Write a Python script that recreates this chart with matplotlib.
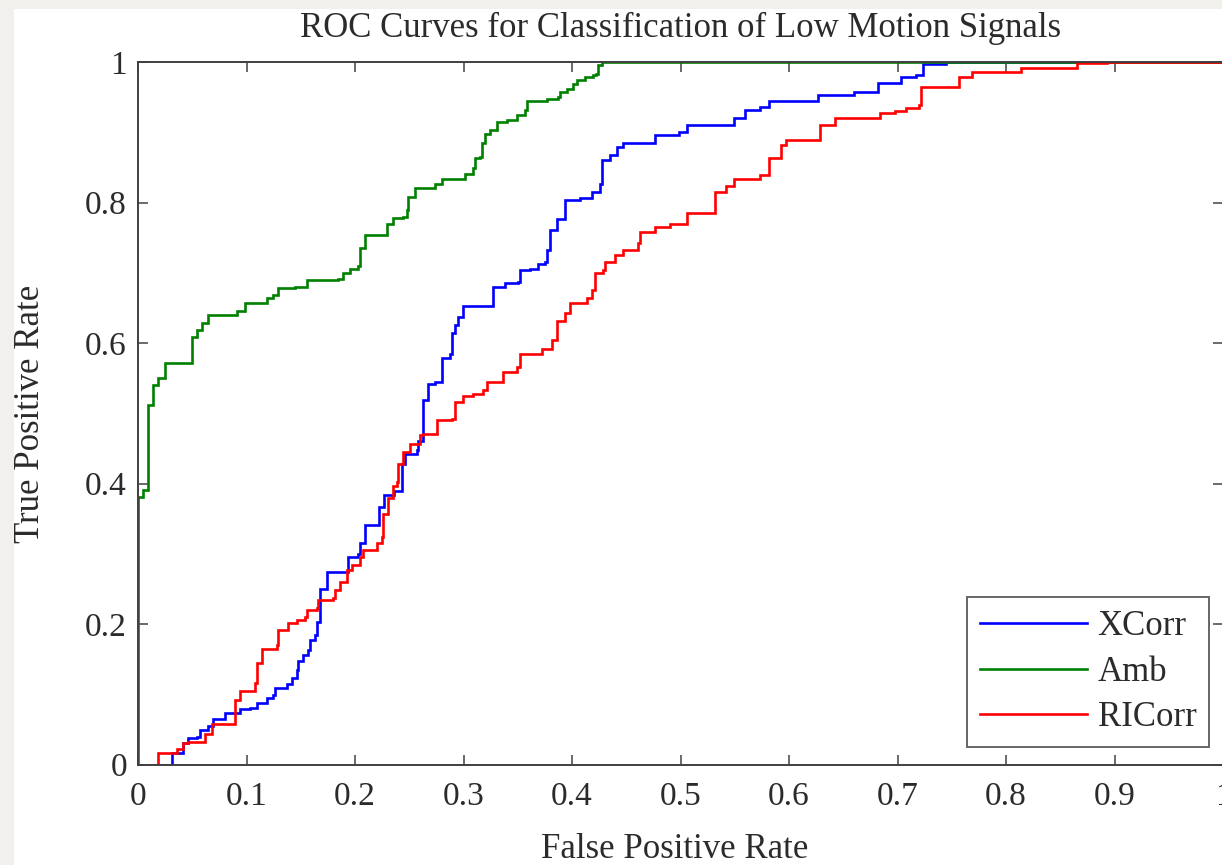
import matplotlib
matplotlib.use("Agg")
import matplotlib.pyplot as plt
from matplotlib.patches import Rectangle

title = "ROC Curves for Classification of Low Motion Signals"
xlabel = "False Positive Rate"
ylabel = "True Positive Rate"
series_names = ["XCorr", "Amb", "RICorr"]

xticks = [0, 0.1, 0.2, 0.3, 0.4, 0.5, 0.6, 0.7, 0.8, 0.9, 1]
xtick_labels = ["0", "0.1", "0.2", "0.3", "0.4", "0.5", "0.6", "0.7", "0.8", "0.9", "1"]
yticks = [0, 0.2, 0.4, 0.6, 0.8, 1]
ytick_labels = ["0", "0.2", "0.4", "0.6", "0.8", "1"]

# XCorr (blue)
xcorr_fpr = [0, 0.0234, 0.031, 0.0418, 0.0464, 0.054, 0.057, 0.0648, 0.0694, 0.0802, 0.094,
             0.1032, 0.1094, 0.1186, 0.1247, 0.1263, 0.137, 0.1416, 0.1462, 0.1478, 0.1524,
             0.157, 0.1585, 0.1631, 0.1647, 0.1677, 0.1677, 0.174, 0.1893, 0.194, 0.2032,
             0.2048, 0.2094, 0.22, 0.2217, 0.2263, 0.2355, 0.2432, 0.2432, 0.2462, 0.2569,
             0.2585, 0.263, 0.263, 0.2676, 0.2737, 0.2799, 0.2875, 0.289, 0.292, 0.295,
             0.2998, 0.326, 0.3275, 0.338, 0.3502, 0.352, 0.3613, 0.369, 0.3751, 0.3766,
             0.3797, 0.386, 0.3935, 0.4074, 0.418, 0.4258, 0.4273, 0.435, 0.4411, 0.4473,
             0.4745, 0.4765, 0.4943, 0.4982, 0.5061, 0.5417, 0.5496, 0.5595, 0.5733, 0.5812,
             0.6167, 0.6266, 0.6582, 0.6602, 0.68, 0.682, 0.7017, 0.7036, 0.7174, 0.7234,
             0.7432, 0.745, 1.0]
xcorr_tpr = [0, 0, 0.016, 0.030, 0.0375, 0.0395, 0.049, 0.0555, 0.065, 0.074, 0.0785,
             0.081, 0.088, 0.095, 0.0995, 0.109, 0.114, 0.123, 0.135, 0.147, 0.156,
             0.163, 0.177, 0.184, 0.203, 0.213, 0.25, 0.2745, 0.2745, 0.296, 0.300,
             0.315, 0.341, 0.341, 0.366, 0.383, 0.390, 0.393, 0.428, 0.442, 0.447,
             0.461, 0.466, 0.519, 0.542, 0.545, 0.578, 0.585, 0.614, 0.625, 0.637,
             0.652, 0.652, 0.680, 0.685, 0.687, 0.704, 0.706, 0.713, 0.716, 0.7325,
             0.761, 0.777, 0.803, 0.806, 0.815, 0.827, 0.860, 0.867, 0.879, 0.884,
             0.884, 0.896, 0.896, 0.901, 0.910, 0.910, 0.920, 0.932, 0.936, 0.944,
             0.944, 0.953, 0.953, 0.958, 0.958, 0.970, 0.970, 0.979, 0.981, 0.997,
             0.997, 1.0, 1.0]

# Amb (green)
amb_fpr = [0, 0, 0.005, 0.0095, 0.0095, 0.0141, 0.0187, 0.0249, 0.0495, 0.0495, 0.054,
           0.0587, 0.0648, 0.0879, 0.091, 0.0986, 0.1124, 0.1186, 0.1247, 0.1293, 0.1447,
           0.1555, 0.1846, 0.1892, 0.1954, 0.203, 0.2046, 0.2092, 0.2261, 0.2292, 0.2353,
           0.2445, 0.2476, 0.249, 0.2553, 0.2645, 0.2737, 0.2799, 0.2983, 0.3014, 0.309,
           0.3106, 0.3152, 0.3167, 0.3198, 0.3244, 0.3306, 0.3398, 0.349, 0.3567, 0.3582,
           0.3736, 0.3766, 0.3874, 0.3889, 0.3951, 0.4012, 0.4043, 0.412, 0.4196, 0.4225,
           0.424, 0.428, 1.0]
amb_tpr = [0, 0.381, 0.391, 0.391, 0.512, 0.540, 0.550, 0.571, 0.571, 0.609, 0.618,
           0.628, 0.640, 0.640, 0.645, 0.6565, 0.6565, 0.6636, 0.668, 0.678, 0.680,
           0.690, 0.691, 0.699, 0.705, 0.710, 0.735, 0.754, 0.754, 0.770, 0.7775,
           0.780, 0.789, 0.808, 0.820, 0.820, 0.827, 0.834, 0.834, 0.841, 0.849,
           0.863, 0.865, 0.884, 0.898, 0.903, 0.915, 0.918, 0.925, 0.932, 0.944,
           0.944, 0.948, 0.950, 0.957, 0.962, 0.969, 0.975, 0.978, 0.981, 0.983,
           0.996, 1.0, 1.0]

# RICorr (red)
ricorr_fpr = [0, 0.0187, 0.0187, 0.031, 0.0356, 0.0418, 0.0464, 0.0602, 0.0618, 0.068, 0.0894,
              0.0894, 0.094, 0.1078, 0.1094, 0.114, 0.128, 0.1293, 0.1386, 0.1462, 0.1539,
              0.1555, 0.1647, 0.1662, 0.18, 0.1815, 0.1862, 0.1923, 0.1969, 0.2046, 0.2076,
              0.22, 0.2245, 0.2261, 0.2307, 0.2353, 0.2384, 0.2399, 0.2445, 0.2507, 0.2599,
              0.263, 0.2737, 0.2753, 0.2891, 0.2921, 0.2998, 0.3091, 0.3183, 0.3213, 0.3367,
              0.349, 0.352, 0.369, 0.372, 0.3813, 0.386, 0.3935, 0.3981, 0.4135, 0.418,
              0.4212, 0.4289, 0.4304, 0.4396, 0.4473, 0.4608, 0.4628, 0.4765, 0.4903, 0.5061,
              0.5318, 0.5318, 0.5417, 0.5496, 0.5733, 0.5812, 0.593, 0.597, 0.6246, 0.6285,
              0.6423, 0.68, 0.6839, 0.6977, 0.7076, 0.7195, 0.7214, 0.745, 0.7569, 0.7687,
              0.8101, 0.814, 0.8614, 0.8654, 0.893, 1.0]
ricorr_tpr = [0, 0, 0.016, 0.016, 0.022, 0.030, 0.0326, 0.0326, 0.044, 0.058, 0.058,
              0.0917, 0.104, 0.116, 0.144, 0.165, 0.170, 0.191, 0.201, 0.206, 0.2105,
              0.220, 0.2222, 0.234, 0.2365, 0.248, 0.260, 0.277, 0.284, 0.296, 0.305,
              0.315, 0.324, 0.357, 0.380, 0.397, 0.402, 0.428, 0.445, 0.456, 0.469,
              0.471, 0.471, 0.490, 0.492, 0.5165, 0.524, 0.528, 0.533, 0.545, 0.559,
              0.566, 0.585, 0.585, 0.592, 0.604, 0.632, 0.642, 0.6565, 0.6636, 0.675,
              0.700, 0.7035, 0.716, 0.725, 0.7325, 0.742, 0.758, 0.7655, 0.770, 0.785,
              0.785, 0.815, 0.823, 0.834, 0.839, 0.863, 0.882, 0.8885, 0.8885, 0.910,
              0.920, 0.920, 0.927, 0.930, 0.934, 0.939, 0.965, 0.965, 0.979, 0.986,
              0.986, 0.991, 0.991, 0.998, 1.0, 1.0]

series_fpr = [xcorr_fpr, amb_fpr, ricorr_fpr]
series_tpr = [xcorr_tpr, amb_tpr, ricorr_tpr]
series_colors = ["#0000ff", "#008000", "#ff0000"]

W, H = 1222, 865
plt.rcParams['font.family'] = ['Liberation Serif', 'DejaVu Serif']
fig = plt.figure(figsize=(W / 100, H / 100), dpi=100, facecolor="#f2f0ec")
fig.patches.append(Rectangle((14 / W, 0), 1 - 14 / W, 1 - 9 / H, transform=fig.transFigure,
                             facecolor="white", edgecolor="none", zorder=-10))

ax_left, ax_right, ax_top, ax_bottom = 138, 1223, 62, 764.5
ax = fig.add_axes([ax_left / W, 1 - ax_bottom / H, (ax_right - ax_left) / W, (ax_bottom - ax_top) / H])
ax.set_facecolor("white")

for fpr, tpr, col, name in zip(series_fpr, series_tpr, series_colors, series_names):
    ax.plot(fpr, tpr, color=col, lw=1.9, label=name, drawstyle="steps-post",
            solid_joinstyle="miter")

ax.set_xlim(0, 1)
ax.set_ylim(0, 1)
ax.set_xticks(xticks)
ax.set_xticklabels(xtick_labels)
ax.set_yticks(yticks)
ax.set_yticklabels(ytick_labels)

fs = 25
tfs = 24
txt_col = "#2b2b2b"
ax.tick_params(direction="in", length=7, width=1.2, color="#505050", labelsize=tfs,
               top=True, right=True, labelcolor=txt_col)
ax.tick_params(axis="x", pad=12)
ax.tick_params(axis="y", pad=8)
for sp in ax.spines.values():
    sp.set_color("#404040")
    sp.set_linewidth(1.4)

ax.set_xlabel(xlabel, fontsize=fs, color=txt_col)
ax.xaxis.label.set_va("center")
ax.xaxis.set_label_coords((675 - ax_left) / (ax_right - ax_left), (ax_bottom - 849.5) / (ax_bottom - ax_top))
ax.set_ylabel(ylabel, fontsize=fs, color=txt_col)
ax.yaxis.label.set_va("center")
ax.yaxis.set_label_coords((31 - ax_left) / (ax_right - ax_left), (ax_bottom - 414) / (ax_bottom - ax_top))

ax.set_title(title, fontsize=fs, color=txt_col, pad=0, va="center",
             y=(ax_bottom - 28) / (ax_bottom - ax_top))

leg = ax.legend(loc="lower right",
                bbox_to_anchor=((1209 - ax_left) / (ax_right - ax_left), (ax_bottom - 747) / (ax_bottom - ax_top)),
                borderaxespad=0, fontsize=fs, frameon=True, fancybox=False, shadow=False,
                handlelength=3.1, handletextpad=0.3, labelspacing=0.37, borderpad=0.36)
leg.get_frame().set_edgecolor("#404040")
leg.get_frame().set_linewidth(1.4)
for t in leg.get_texts():
    t.set_color(txt_col)

fig.savefig("out.png", dpi=100, facecolor=fig.get_facecolor())
